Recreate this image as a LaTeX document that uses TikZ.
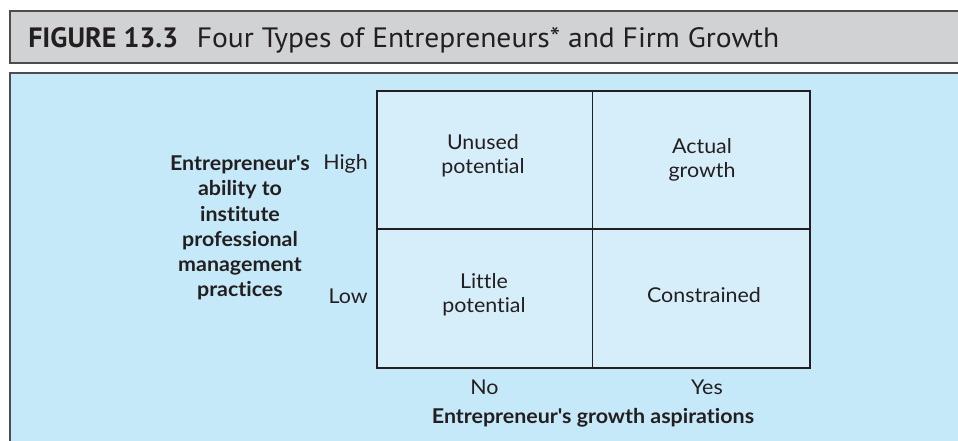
\documentclass[tikz,border=0pt]{standalone}
\usepackage{fontspec}
\setmainfont{Lato}[FakeStretch=1.05, Ligatures={NoCommon}]
\newfontfamily\headfont{PT Sans}
\newfontfamily\headwide{PT Sans}[FakeStretch=1.055]
\definecolor{headgray}{HTML}{D1D2D4}
\definecolor{panelblue}{HTML}{C6E9F9}
\definecolor{cellblue}{HTML}{D6EEFA}
\definecolor{ink}{HTML}{231F20}
\definecolor{rulegray}{HTML}{4D4D4F}
\newcommand{\apos}{\textquotesingle}
\begin{document}
\begin{tikzpicture}[x=0.75pt,y=-0.75pt,
  txt/.style={font=\fontsize{15.3}{18.3}\selectfont, text=ink, align=center, inner sep=0pt},
  boldtxt/.style={txt, font=\fontsize{15.3}{18.9}\selectfont\bfseries}]
  \useasboundingbox (0,0) rectangle (958,440);
  % header band
  \fill[headgray] (10,11) rectangle (962,63);
  \draw[rulegray, line width=1.5pt] (962,11) -- (10,11) -- (10,63) -- (962,63);
  \node[anchor=base west, inner sep=0pt, text=ink, font=\fontsize{21}{24}\selectfont] (title) at (28,47)
    {{\headfont\bfseries FIGURE 13.3}\hspace{14pt}{\headwide Four Types of Entrepreneurs* and Firm Growth}};
  % panel
  \fill[panelblue] (10,73) rectangle (962,444);
  \draw[rulegray, line width=1.2pt] (962,73) -- (10,73) -- (10,444);
  % grid
  \draw[ink, line width=0.9pt, fill=cellblue] (377,91) rectangle (810,368);
  \draw[ink, line width=0.9pt] (592.5,91) -- (592.5,368);
  \draw[ink, line width=0.9pt] (377,229) -- (810,229);
  % cells
  \node[txt] (unused) at (483,156) {Unused\\potential};
  \node[txt] (actual) at (702,160) {Actual\\growth};
  \node[txt] (little) at (484,295) {Little\\potential};
  \node[txt] (constr) at (704,295) {Constrained};
  % axes
  \node[txt, anchor=east] (high) at (368,164) {High};
  \node[txt, anchor=east] (low) at (368,296) {Low};
  \node[boldtxt] (ability) at (240,228) {Entrepreneur\apos s\\ability to\\institute\\professional\\management\\practices};
  \node[txt] (no) at (484.5,387) {No};
  \node[txt] (yes) at (707,387) {Yes};
  \node[boldtxt] (aspire) at (593,418) {Entrepreneur\apos s growth aspirations};
\end{tikzpicture}
\end{document}
